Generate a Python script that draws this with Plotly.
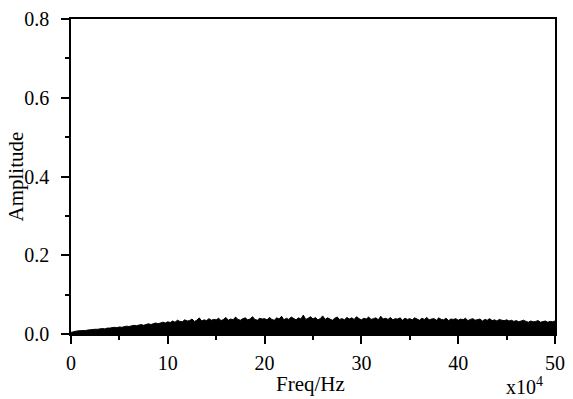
import numpy as np
import plotly.graph_objects as go

# Frequency grid in units of 1e4 Hz (0 to 50, step 0.25)
freq = np.linspace(0, 50, 201)

# Upper envelope of the amplitude spectrum (in units of 1e-3)
amp_milli = [
    4, 6, 7, 8, 8, 9, 9, 10, 11, 11, 12, 12, 13, 14, 13, 15, 15, 16, 17, 16,
    18, 17, 19, 20, 19, 21, 22, 21, 23, 24, 22, 25, 26, 24, 27, 28, 26, 29, 30, 28,
    31, 29, 33, 30, 35, 32, 31, 36, 33, 34, 38, 32, 35, 41, 33, 36, 34, 39, 35, 37,
    36, 40, 34, 37, 42, 35, 38, 36, 43, 37, 35, 39, 41, 36, 38, 44, 37, 35, 40, 38,
    39, 36, 42, 37, 35, 41, 38, 45, 36, 40, 37, 43, 39, 36, 41, 38, 48, 37, 40, 44,
    38, 42, 36, 39, 46, 37, 41, 38, 35, 40, 43, 37, 39, 36, 42, 38, 41, 37, 44, 39,
    36, 40, 38, 43, 37, 39, 41, 36, 45, 38, 40, 37, 42, 36, 39, 38, 41, 35, 40, 37,
    39, 36, 41, 38, 35, 40, 37, 42, 36, 38, 39, 35, 41, 37, 36, 40, 34, 38, 37, 39,
    35, 38, 36, 40, 34, 37, 39, 35, 36, 38, 33, 37, 35, 39, 34, 36, 33, 37, 35, 34,
    36, 33, 35, 32, 34, 31, 33, 35, 32, 30, 33, 31, 32, 34, 30, 31, 33, 30, 32, 31, 33,
]
amp = [v / 1000.0 for v in amp_milli]

x_ticks = [0, 10, 20, 30, 40, 50]
y_ticks = [0.0, 0.2, 0.4, 0.6, 0.8]

FONT = "Liberation Serif"

fig = go.Figure()
fig.add_trace(go.Scatter(
    x=freq, y=amp, mode="lines", fill="tozeroy",
    line=dict(color="black", width=1), fillcolor="black",
    showlegend=False, hoverinfo="skip",
))

axis_common = dict(
    showline=True, linecolor="black", linewidth=1.5, mirror=True,
    ticks="outside", tickcolor="black", tickwidth=1.5, ticklen=8,
    showgrid=False, zeroline=False, ticklabeloverflow="allow",
    tickfont=dict(family=FONT, size=20, color="black"),
)

fig.update_layout(
    width=573, height=399,
    margin=dict(l=71, r=16, t=8, b=65),
    plot_bgcolor="white", paper_bgcolor="white",
    font=dict(family=FONT, color="black"),
    xaxis=dict(
        range=[0, 50], tickvals=x_ticks, ticktext=[str(v) for v in x_ticks],
        minor=dict(ticks="outside", tickvals=[5, 15, 25, 35, 45], ticklen=4,
                   tickcolor="black", tickwidth=1.5),
        ticklabelstandoff=2,
        **axis_common,
    ),
    yaxis=dict(
        range=[0, 0.8], tickvals=y_ticks, ticktext=[f"{v:.1f}" for v in y_ticks],
        minor=dict(ticks="outside", tickvals=[0.1, 0.3, 0.5, 0.7], ticklen=4,
                   tickcolor="black", tickwidth=1.5),
        ticklabelstandoff=8,
        **axis_common,
    ),
    annotations=[
        dict(text="Freq/Hz", xref="paper", yref="paper", x=0.5, y=0,
             xanchor="center", yanchor="middle", xshift=-3, yshift=-50,
             showarrow=False, font=dict(family=FONT, size=21, color="black")),
        dict(text="Amplitude", xref="paper", yref="paper", x=0, y=0.5,
             xanchor="center", yanchor="middle", xshift=-56, textangle=-90,
             showarrow=False, font=dict(family=FONT, size=21, color="black")),
        dict(text="x10<sup>4</sup>", xref="paper", yref="paper",
             x=1.0, y=0, xanchor="right", yanchor="top", yshift=-38, xshift=-10,
             showarrow=False, font=dict(family=FONT, size=20, color="black")),
    ],
)

fig.write_html("out.html")
